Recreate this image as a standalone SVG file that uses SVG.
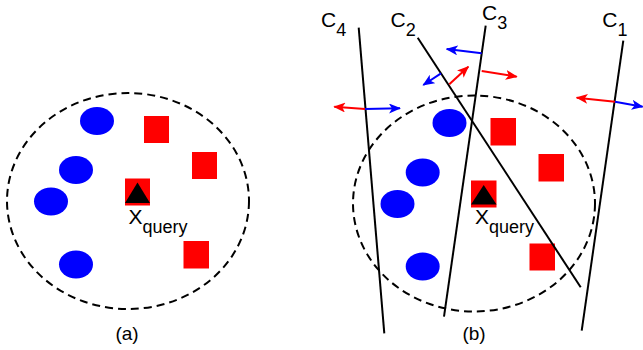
<svg xmlns="http://www.w3.org/2000/svg" width="643" height="350" viewBox="0 0 643 350">
<style>
.bnd{fill:none;stroke:#000;stroke-width:2;stroke-dasharray:8,5}
.blue{fill:#0000ff}
.red{fill:#ff0000}
.tri{fill:#000}
.cl{stroke:#000;stroke-width:2;fill:none}
.ar{stroke:#ff0000;stroke-width:2;fill:none}
.ab{stroke:#0000ff;stroke-width:2;fill:none}
text{font-family:"Liberation Sans",Arial,sans-serif;fill:#000}
.lbl{font-size:21px}
.sub{font-size:18px}
.cap{font-size:19px}
</style>
<defs>
<marker id="hr" viewBox="0 0 12 10" refX="11" refY="5" markerWidth="12" markerHeight="10" markerUnits="userSpaceOnUse" orient="auto"><path d="M0,0 L12,5 L0,10 L3,5 Z" fill="#ff0000"/></marker>
<marker id="hb" viewBox="0 0 12 10" refX="11" refY="5" markerWidth="12" markerHeight="10" markerUnits="userSpaceOnUse" orient="auto"><path d="M0,0 L12,5 L0,10 L3,5 Z" fill="#0000ff"/></marker>
</defs>

<g id="panel-a">
<ellipse id="a-boundary" class="bnd" cx="128" cy="201" rx="121" ry="108"/>
<g id="a-blue1"><ellipse class="blue" cx="97" cy="121" rx="17" ry="14"/></g>
<g id="a-blue2"><ellipse class="blue" cx="76" cy="170" rx="17" ry="14"/></g>
<g id="a-blue3"><ellipse class="blue" cx="51" cy="201.5" rx="17" ry="14"/></g>
<g id="a-blue4"><ellipse class="blue" cx="76" cy="264.5" rx="17" ry="14"/></g>
<g id="a-red1"><rect class="red" x="144" y="116" width="25" height="27"/></g>
<g id="a-red2"><rect class="red" x="192" y="152" width="25" height="27"/></g>
<g id="a-red3"><rect class="red" x="183.5" y="241" width="25.5" height="27.5"/></g>
<g id="a-query">
<rect class="red" x="125" y="178.5" width="25" height="27"/>
<path class="tri" d="M137.5,182.5 L150,203 L125,203 Z"/>
<text class="lbl" x="128.5" y="223.5">X<tspan class="sub" dy="9">query</tspan></text>
</g>
<text id="a-caption" class="cap" x="127" y="340" text-anchor="middle">(a)</text>
</g>

<g id="panel-b">
<ellipse id="b-boundary" class="bnd" cx="474" cy="203.5" rx="121" ry="108"/>
<g id="b-blue1"><ellipse class="blue" cx="449.5" cy="123" rx="17" ry="14"/></g>
<g id="b-blue2"><ellipse class="blue" cx="422.7" cy="172.5" rx="17" ry="14"/></g>
<g id="b-blue3"><ellipse class="blue" cx="397.5" cy="204" rx="17" ry="14"/></g>
<g id="b-blue4"><ellipse class="blue" cx="422.7" cy="266.5" rx="17" ry="14"/></g>
<g id="b-red1"><rect class="red" x="490.5" y="118" width="25.5" height="27.5"/></g>
<g id="b-red2"><rect class="red" x="538.5" y="154" width="25.5" height="27.5"/></g>
<g id="b-red3"><rect class="red" x="529.5" y="243.5" width="25.5" height="27"/></g>
<g id="b-query">
<rect class="red" x="471" y="180.5" width="25.5" height="27"/>
<path class="tri" d="M483.7,185 L496.5,204.5 L471,204.5 Z"/>
<text class="lbl" x="475" y="224">X<tspan class="sub" dy="9">query</tspan></text>
</g>
<text id="b-caption" class="cap" x="474" y="340" text-anchor="middle">(b)</text>

<g id="classifier-c4"><text class="lbl" x="321" y="27">C<tspan class="sub" dy="9">4</tspan></text></g>
<g id="classifier-c2"><text class="lbl" x="390.5" y="27">C<tspan class="sub" dy="9">2</tspan></text></g>
<g id="classifier-c3"><text class="lbl" x="482" y="20.3">C<tspan class="sub" dy="9">3</tspan></text></g>
<g id="classifier-c1"><text class="lbl" x="602.3" y="27">C<tspan class="sub" dy="9">1</tspan></text></g>
</g>

<g id="connectors">
<line class="cl" x1="358.7" y1="27.7" x2="384.3" y2="333.3"/>
<line class="cl" x1="417.7" y1="37.7" x2="580.7" y2="287.3"/>
<line class="cl" x1="485.7" y1="25.7" x2="444" y2="316.7"/>
<line class="cl" x1="623.3" y1="40.7" x2="581.7" y2="330.7"/>

<line class="ar" x1="365" y1="109" x2="334.3" y2="106.7" marker-end="url(#hr)"/>
<line class="ab" x1="365" y1="109" x2="400" y2="108.3" marker-end="url(#hb)"/>
<line class="ab" x1="481.7" y1="53.3" x2="446.7" y2="49" marker-end="url(#hb)"/>
<line class="ab" x1="441" y1="73.3" x2="423.3" y2="85" marker-end="url(#hb)"/>
<line class="ar" x1="449.3" y1="84.3" x2="468.3" y2="66.7" marker-end="url(#hr)"/>
<line class="ar" x1="481.7" y1="71" x2="516.7" y2="76.7" marker-end="url(#hr)"/>
<line class="ar" x1="615" y1="101.7" x2="576.7" y2="97.7" marker-end="url(#hr)"/>
<line class="ab" x1="615" y1="101.7" x2="642.7" y2="106.7" marker-end="url(#hb)"/>
</g>
</svg>
